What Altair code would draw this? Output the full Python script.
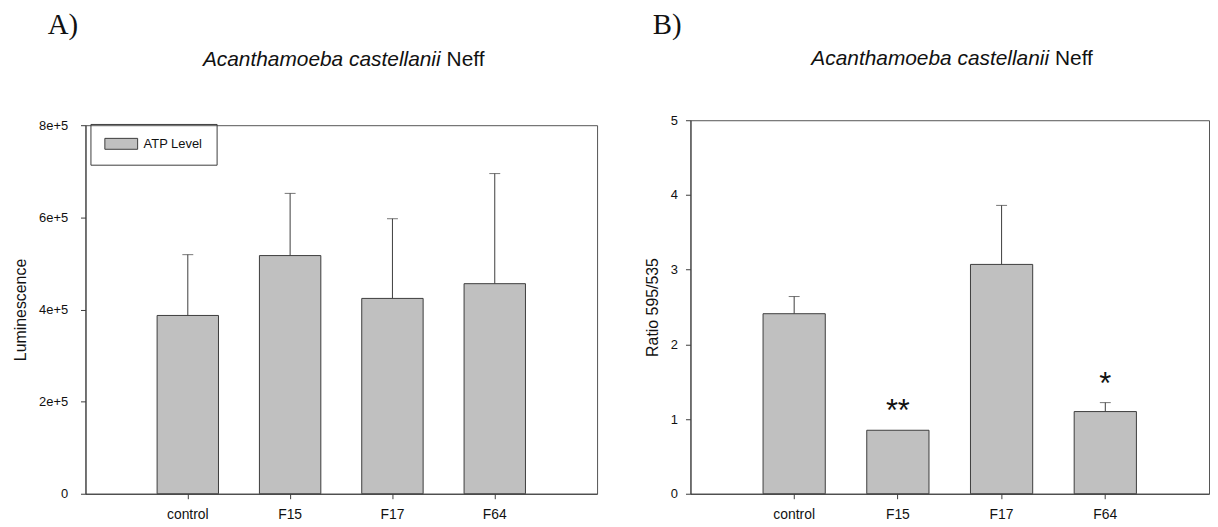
import altair as alt
import pandas as pd

# ---------------- data ----------------
categories = ["control", "F15", "F17", "F64"]
atp_mean = [387000, 517000, 424000, 456000]
atp_err = [132000, 135000, 173000, 239000]
ratio_mean = [2.41, 0.85, 3.07, 1.10]
ratio_err = [0.23, 0.0, 0.79, 0.12]
ratio_sig = ["", "**", "", "*"]
atp_ticks = [0, 200000, 400000, 600000, 800000]
atp_tick_labels = ["0", "2e+5", "4e+5", "6e+5", "8e+5"]
ratio_ticks = [0, 1, 2, 3, 4, 5]
panel_letters = ["A)", "B)"]
species = ["Acanthamoeba castellanii"]
strain = ["Neff"]
series_name = ["ATP Level"]
y_titles = ["Luminescence", "Ratio 595/535"]

SANS = "Liberation Sans"
SERIF = "Liberation Serif"
EDGE = "#3c3c3c"
FILL = "#c0c0c0"

dfA = pd.DataFrame({"cat": categories, "mean": atp_mean, "err": atp_err,
                    "series": series_name * len(categories)})
dfA["top"] = dfA["mean"] + dfA["err"]
dfB = pd.DataFrame({"cat": categories, "mean": ratio_mean, "err": ratio_err, "sig": ratio_sig})
dfB["top"] = dfB["mean"] + dfB["err"]

label_expr_A = " : ".join(
    f"datum.value == {v} ? '{l}'" for v, l in zip(atp_ticks, atp_tick_labels)
) + " : ''"


def xenc(extra_title=False):
    kw = dict(title=None)
    if extra_title:
        # invisible spacer title: lowers this panel's layout extent so the
        # two plot frames keep their own vertical positions
        kw = dict(title=" ", titleFontSize=5, titlePadding=0)
    return alt.X("cat:N", sort=categories,
                 scale=alt.Scale(paddingInner=0.4, paddingOuter=0.7),
                 axis=alt.Axis(labelAngle=0, labelFont=SANS, labelFontSize=14,
                               labelColor="#111", tickSize=5, tickColor=EDGE, domainColor=EDGE,
                               labelPadding=9, **kw))


def title_layers(letter, w, letter_y, title_y):
    d_letter = pd.DataFrame({"t": [letter]})
    d_sp = pd.DataFrame({"t": species})
    d_st = pd.DataFrame({"t": strain})
    l1 = alt.Chart(d_letter).mark_text(font=SERIF, fontSize=29, align="left",
                                       baseline="alphabetic", color="#111").encode(
        text="t:N", x=alt.value(-38), y=alt.value(letter_y))
    l2 = alt.Chart(d_sp).mark_text(font=SANS, fontSize=21, fontStyle="italic", align="right",
                                   baseline="alphabetic", color="#111").encode(
        text="t:N", x=alt.value(w / 2 + 100), y=alt.value(title_y))
    l3 = alt.Chart(d_st).mark_text(font=SANS, fontSize=21, align="left",
                                   baseline="alphabetic", color="#111").encode(
        text="t:N", x=alt.value(w / 2 + 106), y=alt.value(title_y))
    return [l1, l2, l3]


# ---------------- panel A ----------------
WA, HA = 515, 371
yA = alt.Y("mean:Q", scale=alt.Scale(domain=[0, 800000], nice=False),
           axis=alt.Axis(title=y_titles[0], values=atp_ticks, labelExpr=label_expr_A,
                         grid=False, tickSize=5, tickColor=EDGE, domainColor=EDGE,
                         labelFont=SANS, labelFontSize=13, labelColor="#111", labelPadding=13,
                         titleFont=SANS, titleFontSize=16, titleFontWeight="normal",
                         titleColor="#111", titlePadding=10))

barsA = alt.Chart(dfA).mark_bar(stroke=EDGE, strokeWidth=1).encode(
    x=xenc(), y=yA,
    color=alt.Color("series:N", scale=alt.Scale(range=[FILL]),
                    legend=alt.Legend(title=None, orient="none", legendX=5, legendY=4,
                                      symbolType="M-1,-1H5V1H-1Z", symbolSize=121,
                                      symbolStrokeColor=EDGE, symbolStrokeWidth=1,
                                      symbolOpacity=1,
                                      labelFont=SANS, labelFontSize=13, labelColor="#111",
                                      labelOffset=27, strokeColor=EDGE, padding=13.5)))
ruleA = alt.Chart(dfA).mark_rule(color=EDGE, strokeWidth=1).encode(
    x=xenc(), y="mean:Q", y2="top:Q")
capA = alt.Chart(dfA).mark_tick(color=EDGE, thickness=1, size=11).encode(
    x=xenc(), y="top:Q")

panelA = alt.layer(ruleA, capA, barsA, *title_layers(panel_letters[0], WA, -92, -60)).properties(
    width=WA, height=HA)

# ---------------- panel B ----------------
WB, HB = 522, 376
yB = alt.Y("mean:Q", scale=alt.Scale(domain=[0, 5], nice=False),
           axis=alt.Axis(title=y_titles[1], values=ratio_ticks, format="d",
                         grid=False, tickSize=5, tickColor=EDGE, domainColor=EDGE,
                         labelFont=SANS, labelFontSize=13, labelColor="#111", labelPadding=8,
                         titleFont=SANS, titleFontSize=16, titleFontWeight="normal",
                         titleColor="#111", titlePadding=10))

barsB = alt.Chart(dfB).mark_bar(stroke=EDGE, strokeWidth=1, fill=FILL).encode(
    x=xenc(extra_title=True), y=yB)
errB = dfB[dfB["err"] > 0]
ruleB = alt.Chart(errB).mark_rule(color=EDGE, strokeWidth=1).encode(
    x=xenc(extra_title=True), y="mean:Q", y2="top:Q")
capB = alt.Chart(errB).mark_tick(color=EDGE, thickness=1, size=11).encode(
    x=xenc(extra_title=True), y="top:Q")
sigB = alt.Chart(dfB[dfB["sig"] != ""]).mark_text(
    font=SANS, fontSize=31, baseline="alphabetic", dy=-9, color="#111").encode(
    x=xenc(extra_title=True), y="top:Q", text="sig:N")

panelB = alt.layer(ruleB, capB, barsB, sigB, *title_layers(panel_letters[1], WB, -87, -56)).properties(
    width=WB, height=HB)

chart = alt.hconcat(panelA, panelB, spacing=46, center=True).configure(
    padding={"left": 4, "top": 0, "right": 0, "bottom": 0}
).configure_view(stroke="#555", strokeWidth=1)

chart.save("out.html", embed_options={"renderer": "svg", "actions": False})
